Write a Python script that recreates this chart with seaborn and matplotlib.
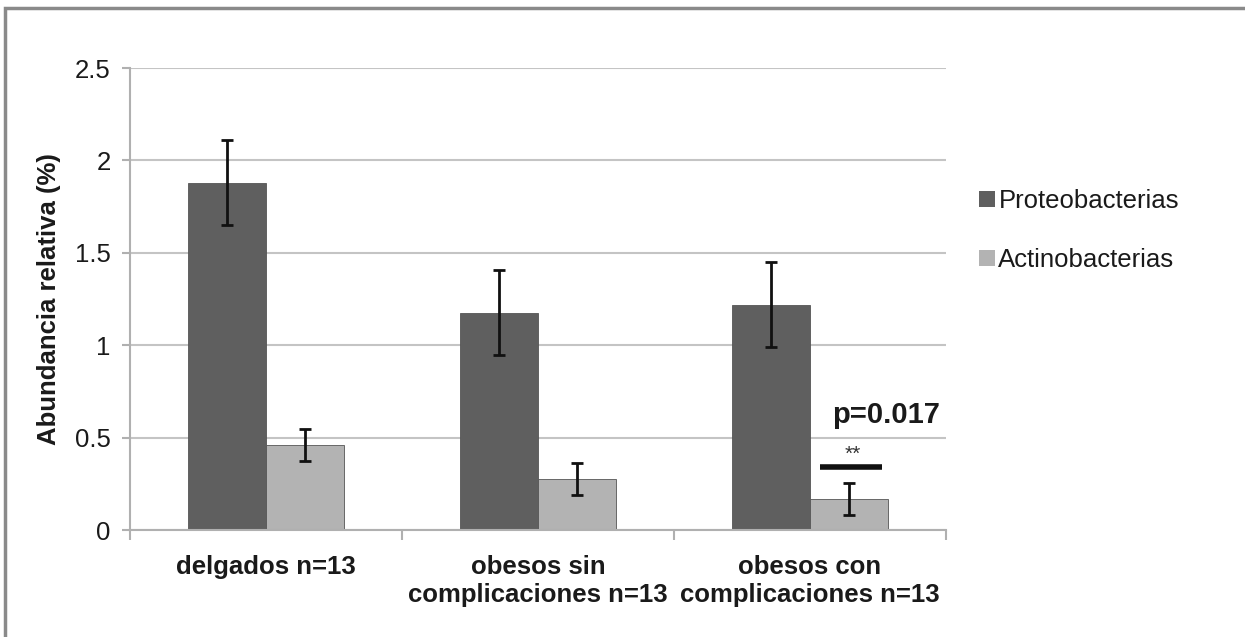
import matplotlib
matplotlib.use("Agg")
import matplotlib.pyplot as plt
from matplotlib.patches import Rectangle, Patch
import seaborn as sns
import pandas as pd

# Data
grupos = ["delgados n=13", "obesos sin\ncomplicaciones n=13", "obesos con\ncomplicaciones n=13"]
series = ["Proteobacterias", "Actinobacterias"]
proteo = [1.88, 1.175, 1.22]
actino = [0.46, 0.275, 0.168]
proteo_err = [0.23, 0.23, 0.23]
actino_err = [0.085, 0.085, 0.085]
colores = ["#5f5f5f", "#b3b3b3"]

df = pd.DataFrame({
    "grupo": grupos * 2,
    "filo": [series[0]] * 3 + [series[1]] * 3,
    "valor": proteo + actino,
    "err": proteo_err + actino_err,
})

sns.set_style("white")
plt.rcParams["font.family"] = ["Liberation Sans", "DejaVu Sans"]

FS = 18.5
TXT = "#1a1a1a"

fig = plt.figure(figsize=(12.45, 6.37), dpi=100)
ax = fig.add_axes([130 / 1245, 1 - 530 / 637, 816 / 1245, 462 / 637])

sns.barplot(data=df, x="grupo", y="valor", hue="filo", palette=colores,
            errorbar=None, width=0.574, gap=0, ax=ax, legend=False,
            edgecolor="#555555", linewidth=0.6, zorder=2)

# error bars placed at the centre of each bar
for patch_list, errs, vals in zip([ax.patches[:3], ax.patches[3:6]],
                                  [proteo_err, actino_err], [proteo, actino]):
    xs = [p.get_x() + p.get_width() / 2 for p in patch_list]
    ax.errorbar(xs, vals, yerr=errs, fmt="none", ecolor="#111111",
                elinewidth=2, capsize=4.4, capthick=2, zorder=3)

ax.set_ylim(0, 2.5)
ax.set_xlim(-0.5, 2.5)
ax.set_yticks([0, 0.5, 1, 1.5, 2, 2.5])
ax.set_yticklabels(["0", "0.5", "1", "1.5", "2", "2.5"])
ax.yaxis.grid(True, color="#c4c4c4", linewidth=1.5, zorder=0)
ax.set_axisbelow(True)

for s in ["top", "right"]:
    ax.spines[s].set_visible(False)
for s in ["left", "bottom"]:
    ax.spines[s].set_color("#b0b0b0")
    ax.spines[s].set_linewidth(1.5)

ax.tick_params(axis="y", direction="out", length=6, width=1.5, color="#b0b0b0",
               labelsize=FS, labelcolor=TXT, pad=8, left=True)
ax.set_xticks([0, 1, 2])
ax.set_xticks([-0.5, 0.5, 1.5, 2.5], minor=True)
ax.set_xticklabels(grupos, fontsize=FS, fontweight="bold", color=TXT,
                   linespacing=1.2)
ax.tick_params(axis="x", which="major", length=0, pad=18)
ax.tick_params(axis="x", which="minor", direction="out", length=7, width=1.5,
               color="#b0b0b0", bottom=True)

ax.set_xlabel("")
ax.set_ylabel("Abundancia relativa (%)", fontsize=FS, fontweight="bold",
              color=TXT, labelpad=10)

# significance marker on the third group
x_act3 = ax.patches[5].get_x() + ax.patches[5].get_width() / 2
ax.annotate("p=0.017", xy=(x_act3 + 0.135, 0.62), ha="center", va="center",
            fontsize=21, fontweight="bold", color=TXT)
ax.plot([x_act3 - 0.107, x_act3 + 0.121], [0.34, 0.34], color="#111111",
        linewidth=4, solid_capstyle="butt", zorder=4)
ax.text(x_act3 + 0.015, 0.36, "**", ha="center", va="bottom",
        fontsize=15, color="#333333")

handles = [Patch(facecolor=c, edgecolor="none") for c in colores]
fig.legend(handles, series, loc="upper left",
           bbox_to_anchor=(956 / 1245, 1 - 166 / 637), frameon=False,
           fontsize=FS, handlelength=0.6, handleheight=0.6,
           handletextpad=0.15, labelspacing=1.35, labelcolor=TXT)

# outer frame
fig.patches.append(Rectangle((5 / 1245, -0.1), 1.2, (637 - 8) / 637 + 0.1,
                             transform=fig.transFigure, fill=False,
                             edgecolor="#8a8a8a", linewidth=2.5))

fig.savefig("out.png", dpi=100)
